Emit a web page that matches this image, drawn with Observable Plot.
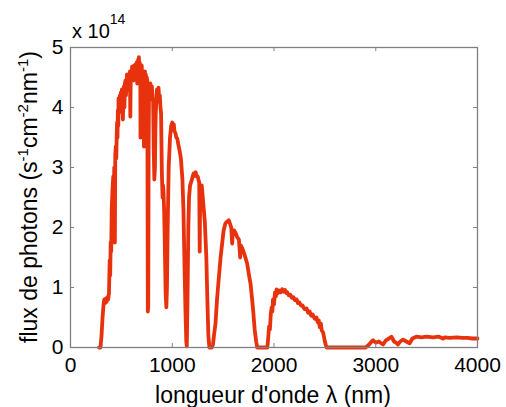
<!DOCTYPE html>
<html>
<head>
<meta charset="utf-8">
<script src="https://cdn.jsdelivr.net/npm/d3@7"></script>
<script src="https://cdn.jsdelivr.net/npm/@observablehq/plot@0.6"></script>
<style>
  html, body { margin: 0; padding: 0; background: #fff; }
  #chart { width: 506px; height: 407px; }
  text { font-family: "Liberation Sans", Arial, sans-serif; }
</style>
</head>
<body>
<div id="chart"></div>
<script>
// Wavelength (nm)
const wavelength = [
  280, 295, 305, 315, 325, 332, 340, 348, 355, 362, 370, 378, 385, 390, 395, 400, 405, 412, 420, 426,
  430, 436, 440, 445, 450, 455, 458, 462, 465, 470, 472, 476, 480, 485, 490, 495, 500, 505, 510, 515,
  520, 525, 530, 535, 540, 545, 550, 555, 560, 565, 570, 575, 580, 584, 588, 592, 595, 600, 605, 610,
  615, 620, 625, 630, 635, 640, 645, 650, 656, 660, 665, 668, 672, 676, 680, 683, 686, 688, 692, 696,
  700, 705, 710, 714, 718, 722, 725, 728, 732, 735, 740, 745, 750, 755, 760, 764, 768, 772, 778, 785,
  792, 800, 806, 812, 818, 824, 830, 834, 838, 844, 850, 857, 865, 871, 878, 884, 890, 898, 905, 910,
  915, 920, 925, 935, 942, 948, 955, 965, 978, 990, 1000, 1008, 1015, 1022, 1030, 1040, 1050, 1060, 1070, 1085,
  1100, 1110, 1120, 1130, 1138, 1143, 1150, 1158, 1165, 1175, 1190, 1200, 1210, 1220, 1230, 1240, 1250, 1265,
  1270, 1275, 1290, 1305, 1320, 1335, 1345, 1355, 1365, 1390, 1400, 1410, 1425, 1440, 1458, 1475, 1490, 1505, 1523, 1540,
  1556, 1570, 1580, 1589, 1595, 1610, 1625, 1638, 1655, 1668, 1675, 1690, 1710, 1736, 1755, 1769, 1785, 1795, 1810, 1825,
  1835, 1900, 1935, 1945, 1952, 1960, 1968, 1977, 1984, 1990, 2000, 2010, 2018, 2026, 2035, 2050, 2065, 2080, 2095, 2108,
  2120, 2130, 2145, 2160, 2175, 2190, 2205, 2222, 2235, 2250, 2265, 2280, 2300, 2320, 2335, 2350, 2365, 2380, 2400, 2418,
  2430, 2440, 2450, 2460, 2470, 2483, 2500, 2516, 2900, 2930, 2960, 2974, 3000, 3030, 3072, 3100, 3130, 3154, 3180, 3200,
  3219, 3240, 3268, 3300, 3333, 3360, 3399, 3450, 3500, 3562, 3620, 3660, 3680, 3725, 3800, 3850, 3900, 3950, 4000
];
// Photon flux (x 10^14 s^-1 cm^-2 nm^-1)
const flux = [
  0, 0, 0.2, 0.5, 0.72, 0.8, 0.74, 0.82, 0.76, 0.84, 0.8, 0.9, 1.45, 1.2, 1.75, 1.6, 2.3, 2.6, 2.85, 2.6,
  3.0, 1.75, 3.2, 3.35, 3.15, 3.6, 3.75, 3.5, 3.95, 3.7, 4.15, 3.9, 4.05, 4.2, 3.95, 4.25, 4.05, 4.3, 4.15, 3.8,
  4.2, 4.35, 4.0, 4.4, 4.45, 4.2, 4.35, 4.55, 4.3, 4.5, 4.4, 4.55, 4.45, 4.6, 3.85, 4.5, 4.6, 4.45, 4.68, 4.5,
  4.6, 4.45, 4.7, 4.55, 4.62, 4.72, 4.5, 4.75, 4.4, 4.7, 4.8, 4.6, 4.84, 4.65, 4.75, 4.55, 4.65, 3.5, 4.55, 4.45,
  4.7, 4.5, 4.6, 4.35, 3.9, 3.35, 3.9, 4.4, 4.6, 4.45, 4.55, 4.4, 4.5, 4.45, 0.6, 0.7, 3.4, 4.35, 4.2, 4.4,
  4.25, 4.35, 4.15, 4.1, 3.3, 2.8, 3.0, 3.6, 3.9, 4.15, 4.3, 4.1, 4.33, 4.15, 4.2, 4.0, 3.9, 2.9, 2.5, 2.7,
  2.55, 2.3, 1.9, 0.9, 0.67, 1.0, 2.0, 3.0, 3.5, 3.7, 3.75, 3.68, 3.72, 3.6, 3.58, 3.5, 3.48, 3.38, 3.3, 3.15,
  2.8, 2.3, 1.4, 0.6, 0.1, 0.02, 0.8, 2.0, 2.5, 2.7, 2.78, 2.85, 2.9, 2.86, 2.92, 2.85, 2.85, 2.75,
  1.6, 2.7, 2.7, 2.4, 2.1, 1.5, 0.8, 0.2, 0, 0, 0.05, 0.2, 0.4, 0.8, 1.17, 1.5, 1.73, 1.95, 2.07, 2.1,
  2.12, 2.05, 2.0, 1.73, 1.95, 1.95, 1.9, 1.84, 1.8, 1.5, 1.7, 1.65, 1.55, 1.4, 1.2, 1.07, 0.8, 0.62, 0.3, 0.1,
  0, 0, 0, 0.2, 0.35, 0.3, 0.55, 0.67, 0.6, 0.8, 0.72, 0.92, 0.85, 0.97, 0.9, 0.95, 0.92, 0.97, 0.93, 0.96,
  0.91, 0.92, 0.87, 0.88, 0.83, 0.84, 0.79, 0.8, 0.74, 0.75, 0.7, 0.7, 0.64, 0.65, 0.58, 0.6, 0.53, 0.55, 0.48, 0.5,
  0.42, 0.45, 0.34, 0.4, 0.28, 0.25, 0.1, 0, 0, 0.04, 0.1, 0.12, 0.08, 0.1, 0.05, 0.12, 0.15, 0.18, 0.1, 0.08,
  0.05, 0.1, 0.13, 0.1, 0.07, 0.15, 0.18, 0.17, 0.18, 0.17, 0.18, 0.15, 0.17, 0.16, 0.17, 0.16, 0.16, 0.15, 0.15
];
const xTicks = [0, 1000, 2000, 3000, 4000];
const yTicks = [0, 1, 2, 3, 4, 5];
const xLabel = "longueur d'onde \u03bb (nm)";
const yLabelParts = [["flux de photons (s", 0], ["-1", 1], ["cm", 0], ["-2", 1], ["nm", 0], ["-1", 1], [")", 0]];
const exponentBase = "x 10";
const exponentPower = "14";

const data = wavelength.map((w, i) => ({w, f: flux[i]}));
const frameColor = "#808080";
const lineColor = "#e8320e";

const svg = Plot.plot({
  width: 506,
  height: 407,
  marginLeft: 70,
  marginRight: 29,
  marginTop: 47,
  marginBottom: 60,
  style: {fontFamily: "'Liberation Sans', Arial, sans-serif", background: "#fff", color: "#000"},
  x: {domain: [0, 4000], label: null},
  y: {domain: [0, 5], label: null},
  marks: [
    Plot.line(data, {x: "w", y: "f", stroke: lineColor, strokeWidth: 3.8, strokeLinejoin: "round", strokeLinecap: "round"}),
    Plot.frame({stroke: frameColor, strokeWidth: 1.3}),
    Plot.ruleX(xTicks, {x: d => d, insetTop: 296, stroke: frameColor}),
    Plot.ruleX(xTicks, {x: d => d, insetBottom: 296, stroke: frameColor}),
    Plot.ruleY(yTicks, {y: d => d, insetRight: 403, stroke: frameColor}),
    Plot.ruleY(yTicks, {y: d => d, insetLeft: 403, stroke: frameColor}),
    Plot.axisX(xTicks, {anchor: "bottom", tickSize: 0, tickPadding: 10, fontSize: 21, label: null, tickFormat: d => String(d)}),
    Plot.axisY(yTicks, {anchor: "left", tickSize: 0, tickPadding: 7, fontSize: 21, label: null, tickFormat: d => String(d)})
  ]
});

const s = d3.select(svg);
// x label
s.append("text")
  .attr("x", 273).attr("y", 403)
  .attr("text-anchor", "middle")
  .attr("font-size", 23)
  .attr("fill", "#000")
  .text(xLabel);
// y label
const yl = s.append("text")
  .attr("transform", "translate(37,197) rotate(-90)")
  .attr("text-anchor", "middle")
  .attr("font-size", 23)
  .attr("fill", "#000");
yLabelParts.forEach(([t, sup], i) => {
  const prev = i > 0 ? yLabelParts[i - 1][1] : 0;
  const ts = yl.append("tspan").text(t);
  if (sup) ts.attr("font-size", 15).attr("dy", prev ? 0 : -9);
  else ts.attr("dy", prev ? 9 : 0);
});
// exponent
const ex = s.append("text")
  .attr("x", 72).attr("y", 38)
  .attr("text-anchor", "start")
  .attr("font-size", 20)
  .attr("fill", "#000");
ex.append("tspan").text(exponentBase);
ex.append("tspan").attr("font-size", 14).attr("dy", -14).text(exponentPower);

document.getElementById("chart").appendChild(svg);
</script>
</body>
</html>
